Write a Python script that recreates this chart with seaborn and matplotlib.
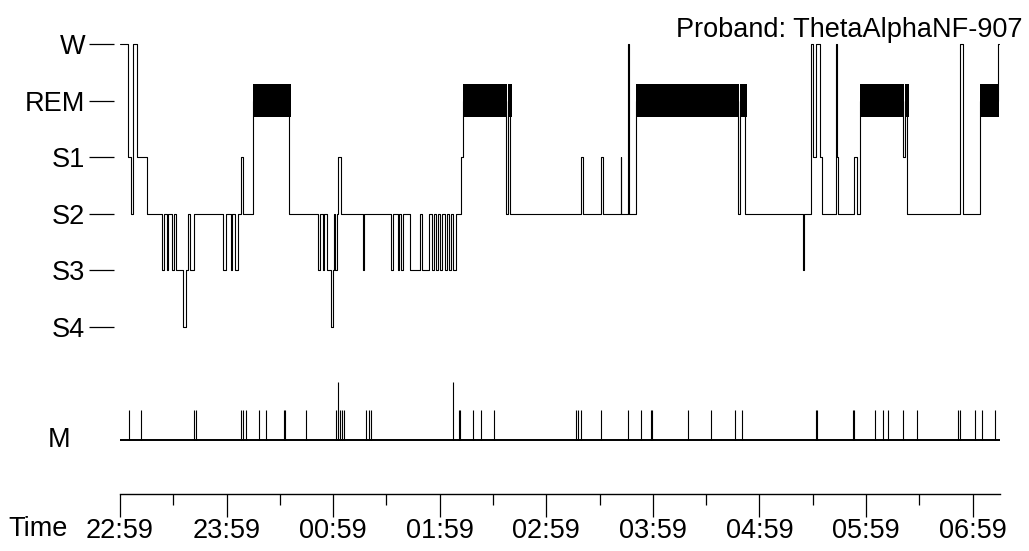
import numpy as np
import pandas as pd
import matplotlib
matplotlib.use("Agg")
import matplotlib.pyplot as plt
import seaborn as sns

# ---------------- data ----------------
stage_names = ["W", "REM", "S1", "S2", "S3", "S4"]
stage_levels = [6, 5, 4, 3, 2, 1]

# hypnogram runs: start minute (from 22:59) and stage
run_start = [0.0, 4.7, 6.2, 7.5, 9.7, 15.0, 23.5, 24.8, 26.3, 27.2, 29.1, 30.4, 31.5, 35.3, 37.2,
             38.4, 39.4, 41.8, 58.2, 59.7, 62.3, 63.3, 65.0, 66.6, 68.1, 69.4, 75.0, 95.4, 111.6,
             112.6, 114.1, 114.8, 116.3, 118.8, 119.7, 120.6, 121.0, 122.0, 122.9, 124.2, 137.0,
             137.5, 152.5, 153.8, 156.3, 157.2, 158.0, 159.5, 163.2, 168.9, 169.8, 174.1, 175.5,
             176.8, 177.9, 179.2, 180.1, 181.4, 182.9, 183.9, 185.2, 186.2, 187.6, 189.1, 191.8,
             193.3, 217.1, 218.2, 219.7, 259.3, 260.4, 270.6, 272.1, 281.8, 282.3, 285.8, 286.3,
             290.3, 347.7, 349.0, 351.8, 384.3, 384.8, 388.8, 390.3, 391.6, 393.9, 395.4, 402.8,
             403.8, 404.4, 413.3, 414.7, 416.6, 440.6, 441.9, 443.2, 472.8, 474.3, 474.7, 484.1,
             494.0]
run_stage = ["W", "S1", "S2", "W", "S1", "S2", "S3", "S2", "S3", "S2", "S3", "S2", "S3", "S4", "S3",
             "S2", "S3", "S2", "S3", "S2", "S3", "S2", "S3", "S2", "S1", "S2", "REM", "S2", "S3",
             "S2", "S3", "S2", "S3", "S4", "S3", "S2", "S3", "S2", "S1", "S2", "S3",
             "S2", "S3", "S2", "S3", "S2", "S3", "S2", "S3", "S2", "S3", "S2", "S3",
             "S2", "S3", "S2", "S3", "S2", "S3", "S2", "S3", "S2", "S3", "S2", "S1",
             "REM", "S2", "REM", "S2", "S1", "S2", "S1", "S2", "S1", "S2", "W", "S2",
             "REM", "S2", "REM", "S2", "S3", "S2", "W", "S1", "W", "S1", "S2", "W",
             "S1", "S2", "S1", "S2", "REM", "S1", "REM", "S2", "W", "S1", "S2", "REM",
             "W"]
record_end = 495.0

# movement markers (minutes)
move_short = [5.1, 11.8, 41.7, 42.8, 68.1, 69.1, 70.8, 78.1, 82.2, 92.1, 93.0, 104.7, 121.6,
              123.8, 124.9, 125.9, 138.5, 140.0, 141.1, 190.7, 191.6, 198.7, 203.2, 210.4,
              256.7, 257.6, 259.3, 270.6, 286.1, 293.1, 298.7, 299.6, 319.9, 332.5, 346.4,
              350.3, 391.8, 392.5, 412.4, 413.3, 425.2, 429.3, 432.1, 440.6, 448.8, 471.7,
              472.7, 481.3, 485.4, 492.5]
move_tall = [122.9, 187.6]

time_labels = ["22:59", "23:59", "00:59", "01:59", "02:59", "03:59", "04:59", "05:59", "06:59"]
title_text = "Proband: ThetaAlphaNF-907"

# ---------------- styling ----------------
sns.set_theme(style="white")
plt.rcParams["font.family"] = ["Liberation Sans", "DejaVu Sans"]
plt.rcParams["text.color"] = "black"
plt.rcParams["xtick.color"] = "black"
plt.rcParams["ytick.color"] = "black"
plt.rcParams["xtick.labelcolor"] = "black"
plt.rcParams["ytick.labelcolor"] = "black"
FS = 19.5

W_PX, H_PX = 1029, 551
fig = plt.figure(figsize=(W_PX / 100, H_PX / 100), dpi=100)
ax = fig.add_axes([120 / W_PX, 57 / H_PX, 880 / W_PX, 464 / H_PX])

level_of = dict(zip(stage_names, stage_levels))
xs = list(run_start) + [record_end]
ys = [level_of[s] for s in run_stage] + [level_of[run_stage[-1]]]
df = pd.DataFrame({"minute": xs, "level": ys})

sns.lineplot(data=df, x="minute", y="level", drawstyle="steps-post", color="black",
             linewidth=0.8, estimator=None, sort=False, ax=ax)

# REM blocks
rem_bars = []
for i, s in enumerate(run_stage):
    if s == "REM":
        end = xs[i + 1]
        rem_bars.append((run_start[i], end - run_start[i] + 1.0))
ax.broken_barh(rem_bars, (level_of["REM"] - 0.29, 0.59), facecolors="black", edgecolor="none")

# movement track
m_base = -1.0
ax.hlines(m_base, 0, record_end + 0.4, color="black", linewidth=1.4)
ax.vlines(move_short, m_base, m_base + 0.53, color="black", linewidth=0.8)
ax.vlines(move_tall, m_base, m_base + 1.03, color="black", linewidth=0.8)
ax.text(-0.056, m_base, "M", transform=ax.get_yaxis_transform(), ha="right", va="center",
        fontsize=FS, color="black")

# axes config
ax.set_xlim(0, 495.4)
ax.set_ylim(-1.96, 6.25)
for side in ["top", "right", "left"]:
    ax.spines[side].set_visible(False)
ax.spines["bottom"].set_color("black")
ax.spines["bottom"].set_linewidth(1.0)

ax.set_yticks(stage_levels)
ax.set_yticklabels(stage_names)
ax.tick_params(axis="y", which="both", left=True, length=18, width=0.9, color="black",
               labelcolor="black", pad=3.0, labelsize=FS, direction="out")
ax.spines["left"].set_position(("outward", 4))

ax.set_xticks([60 * i for i in range(len(time_labels))])
ax.set_xticklabels(time_labels)
ax.set_xticks([30 + 60 * i for i in range(len(time_labels) - 1)], minor=True)
ax.tick_params(axis="x", which="major", bottom=True, length=16.5, width=0.9, color="black",
               labelcolor="black", pad=1.0, labelsize=FS, direction="out")
ax.tick_params(axis="x", which="minor", bottom=True, length=8, width=0.9, color="black",
               direction="out")
ax.set_xlabel("")
ax.set_ylabel("")
ax.grid(False)

fig.text(8 / W_PX, 1 - 516 / H_PX, "Time", ha="left", va="top", fontsize=FS, color="black")
fig.text(1023 / W_PX, 1 - 17 / H_PX, title_text, ha="right", va="top", fontsize=FS,
         color="black")

fig.savefig("out.png", dpi=100, facecolor="white")
